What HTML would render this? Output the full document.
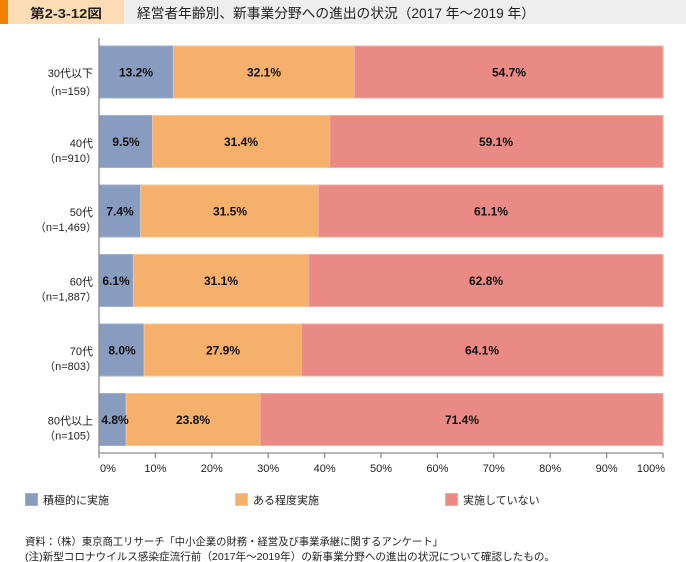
<!DOCTYPE html>
<html><head><meta charset="utf-8">
<style>
html,body{margin:0;padding:0;background:#fff;}
svg{display:block;font-family:"Liberation Sans","Noto Sans CJK JP",sans-serif;}
</style></head>
<body>
<svg width="686" height="562" viewBox="0 0 686 562" xmlns="http://www.w3.org/2000/svg">
<!-- header -->
<rect x="0" y="0" width="686" height="24" fill="#eeeeee"/>
<rect x="0" y="0" width="124" height="24" fill="#fddcb5"/>
<rect x="0" y="0" width="8" height="24" fill="#ef8200"/>
<text x="30" y="18" font-size="13" font-weight="bold" fill="#222" textLength="72" lengthAdjust="spacingAndGlyphs">第2-3-12図</text>
<text x="137" y="18" font-size="13.5" fill="#222" textLength="398" lengthAdjust="spacingAndGlyphs">経営者年齢別、新事業分野への進出の状況（2017 年～2019 年）</text>

<!-- bars -->
<g stroke-width="1">
<!-- 30 -->
<rect x="99" y="46" width="74.4" height="52" fill="#889cc0" stroke="#9fb0cf"/>
<rect x="173.4" y="46" width="181.1" height="52" fill="#f5b06c" stroke="#f8c691"/>
<rect x="354.5" y="46" width="308.5" height="52" fill="#e98b84" stroke="#f1aaa5"/>
<!-- 40 -->
<rect x="99" y="115.5" width="53.6" height="52" fill="#889cc0" stroke="#9fb0cf"/>
<rect x="152.6" y="115.5" width="177.1" height="52" fill="#f5b06c" stroke="#f8c691"/>
<rect x="329.7" y="115.5" width="333.3" height="52" fill="#e98b84" stroke="#f1aaa5"/>
<!-- 50 -->
<rect x="99" y="185" width="41.7" height="52" fill="#889cc0" stroke="#9fb0cf"/>
<rect x="140.7" y="185" width="177.7" height="52" fill="#f5b06c" stroke="#f8c691"/>
<rect x="318.4" y="185" width="344.6" height="52" fill="#e98b84" stroke="#f1aaa5"/>
<!-- 60 -->
<rect x="99" y="254.5" width="34.4" height="52" fill="#889cc0" stroke="#9fb0cf"/>
<rect x="133.4" y="254.5" width="175.4" height="52" fill="#f5b06c" stroke="#f8c691"/>
<rect x="308.8" y="254.5" width="354.2" height="52" fill="#e98b84" stroke="#f1aaa5"/>
<!-- 70 -->
<rect x="99" y="324" width="45.1" height="52" fill="#889cc0" stroke="#9fb0cf"/>
<rect x="144.1" y="324" width="157.4" height="52" fill="#f5b06c" stroke="#f8c691"/>
<rect x="301.5" y="324" width="361.5" height="52" fill="#e98b84" stroke="#f1aaa5"/>
<!-- 80 -->
<rect x="99" y="393.5" width="27.1" height="52" fill="#889cc0" stroke="#9fb0cf"/>
<rect x="126.1" y="393.5" width="134.2" height="52" fill="#f5b06c" stroke="#f8c691"/>
<rect x="260.3" y="393.5" width="402.7" height="52" fill="#e98b84" stroke="#f1aaa5"/>
</g>

<!-- data labels -->
<g font-size="12" font-weight="bold" fill="#111" text-anchor="middle">
<text x="136" y="76.5">13.2%</text><text x="264" y="76.5">32.1%</text><text x="509" y="76.5">54.7%</text>
<text x="126" y="146">9.5%</text><text x="241" y="146">31.4%</text><text x="496" y="146">59.1%</text>
<text x="120" y="215.5">7.4%</text><text x="230" y="215.5">31.5%</text><text x="491" y="215.5">61.1%</text>
<text x="116" y="285">6.1%</text><text x="221" y="285">31.1%</text><text x="486" y="285">62.8%</text>
<text x="122" y="354.5">8.0%</text><text x="223" y="354.5">27.9%</text><text x="482" y="354.5">64.1%</text>
<text x="115" y="424">4.8%</text><text x="193" y="424">23.8%</text><text x="462" y="424">71.4%</text>
</g>

<!-- category labels -->
<g font-size="11" fill="#222" text-anchor="end">
<text x="93" y="77">30代以下</text><text x="97" y="95">（n=159）</text>
<text x="93" y="147">40代</text><text x="97" y="162">（n=910）</text>
<text x="93" y="216">50代</text><text x="97" y="231">（n=1,469）</text>
<text x="93" y="285.5">60代</text><text x="97" y="300.5">（n=1,887）</text>
<text x="93" y="355">70代</text><text x="97" y="370">（n=803）</text>
<text x="93" y="424.5">80代以上</text><text x="97" y="439.5">（n=105）</text>
</g>

<!-- axes -->
<g stroke="#8c8c8c" stroke-width="1.3">
<line x1="99" y1="38" x2="99" y2="458"/>
<line x1="99" y1="453" x2="663" y2="453"/>
<line x1="155.4" y1="453" x2="155.4" y2="458"/>
<line x1="211.8" y1="453" x2="211.8" y2="458"/>
<line x1="268.2" y1="453" x2="268.2" y2="458"/>
<line x1="324.6" y1="453" x2="324.6" y2="458"/>
<line x1="381" y1="453" x2="381" y2="458"/>
<line x1="437.4" y1="453" x2="437.4" y2="458"/>
<line x1="493.8" y1="453" x2="493.8" y2="458"/>
<line x1="550.2" y1="453" x2="550.2" y2="458"/>
<line x1="606.6" y1="453" x2="606.6" y2="458"/>
<line x1="663" y1="453" x2="663" y2="458"/>
</g>
<g font-size="11" fill="#222" text-anchor="middle">
<text x="100" y="472" text-anchor="start">0%</text>
<text x="155.4" y="472">10%</text>
<text x="211.8" y="472">20%</text>
<text x="268.2" y="472">30%</text>
<text x="324.6" y="472">40%</text>
<text x="381" y="472">50%</text>
<text x="437.4" y="472">60%</text>
<text x="493.8" y="472">70%</text>
<text x="550.2" y="472">80%</text>
<text x="606.6" y="472">90%</text>
<text x="665" y="472" text-anchor="end">100%</text>
</g>

<!-- legend -->
<rect x="25.5" y="493.5" width="12" height="12" fill="#889cc0" stroke="#9fb0cf"/>
<text x="43" y="504" font-size="11" fill="#222">積極的に実施</text>
<rect x="235.5" y="493.5" width="12" height="12" fill="#f5b06c" stroke="#f8c691"/>
<text x="253" y="504" font-size="11" fill="#222">ある程度実施</text>
<rect x="445.5" y="493.5" width="12" height="12" fill="#e98b84" stroke="#f1aaa5"/>
<text x="463" y="504" font-size="11" fill="#222">実施していない</text>

<!-- footer -->
<text x="25" y="545" font-size="10.5" fill="#222" textLength="418" lengthAdjust="spacingAndGlyphs">資料：（株）東京商工リサーチ「中小企業の財務・経営及び事業承継に関するアンケート」</text>
<text x="25" y="560" font-size="10.5" fill="#222" textLength="530" lengthAdjust="spacingAndGlyphs">(注)新型コロナウイルス感染症流行前（2017年～2019年）の新事業分野への進出の状況について確認したもの。</text>
</svg>
</body></html>
